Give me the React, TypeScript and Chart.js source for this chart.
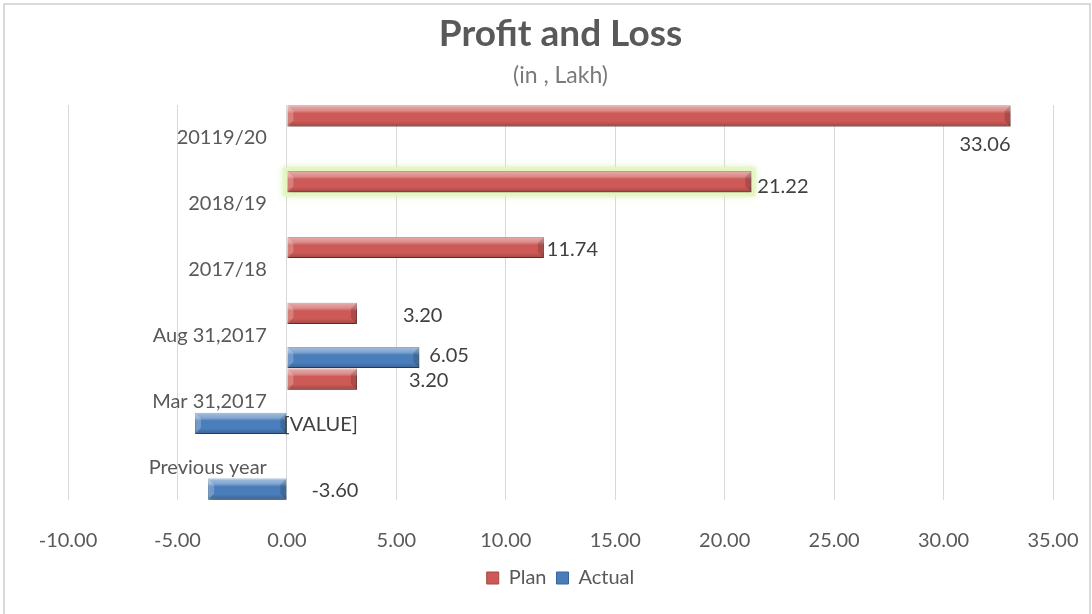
import React, { useEffect, useRef } from "react";
import { Chart, registerables } from "chart.js";

Chart.register(...registerables);

// ---- data ----
const categories = ["20119/20", "2018/19", "2017/18", "Aug 31,2017", "Mar 31,2017", "Previous year"];
const planValues: (number | null)[] = [33.06, 21.22, 11.74, 3.2, 3.2, null];
const actualValues: (number | null)[] = [null, null, null, 6.05, -4.2, -3.6];
const planLabelText: (string | null)[] = [null, null, null, null, null, null];
const actualLabelText: (string | null)[] = [null, null, null, null, "[VALUE]", null];
const xMin = -10;
const xMax = 35;
const xStep = 5;
const seriesNames = ["Plan", "Actual"];

const FONT = 'Lato, "Open Sans", "DejaVu Sans", sans-serif';
const TEXT = "#595959";
const LABEL = "#404040";

// label placement relative to bar end (style, not data)
const labelPlacement: Record<number, ({ dx: number; dy: number; align?: CanvasTextAlign } | null)[]> = {
  0: [
    { dx: 0, dy: 29, align: "right" },
    { dx: 6, dy: 5 },
    { dx: 3, dy: 2 },
    { dx: 46, dy: 2 },
    { dx: 52, dy: 1 },
    null,
  ],
  1: [null, null, null, { dx: 10, dy: -2 }, { dx: -3, dy: 1 }, { dx: 25, dy: 1 }],
};

const textOverrides = [planLabelText, actualLabelText];

const decorPlugin = {
  id: "decor",
  beforeDatasetsDraw(chart: any) {
    // selection glow on 2018/19 plan bar
    const meta = chart.getDatasetMeta(0);
    const el = meta.data[1];
    if (!el) return;
    const p = el.getProps(["x", "y", "base", "height"], true);
    const ctx = chart.ctx;
    const l = Math.min(p.x, p.base), r = Math.max(p.x, p.base);
    ctx.save();
    ctx.fillStyle = "rgba(230,245,195,0.9)";
    ctx.shadowColor = "rgba(205,238,150,0.9)";
    ctx.shadowBlur = 6;
    ctx.fillRect(l - 4, p.y - p.height / 2 - 4, r - l + 8, p.height + 8);
    ctx.restore();
  },
  beforeDatasetDraw(chart: any) {
    const ctx = chart.ctx;
    ctx.save();
    ctx.shadowColor = "rgba(0,0,0,0.35)";
    ctx.shadowBlur = 5;
    ctx.shadowOffsetX = 2;
    ctx.shadowOffsetY = 3;
  },
  afterDatasetDraw(chart: any) {
    chart.ctx.restore();
  },
  afterDatasetsDraw(chart: any) {
    const ctx = chart.ctx;
    const xs = chart.scales.x;
    const ys = chart.scales.y;
    // bevel overlay
    chart.data.datasets.forEach((ds: any, di: number) => {
      const meta = chart.getDatasetMeta(di);
      meta.data.forEach((el: any, i: number) => {
        if (ds.data[i] === null || ds.data[i] === undefined) return;
        const p = el.getProps(["x", "y", "base", "height"], true);
        const l = Math.min(p.x, p.base), r = Math.max(p.x, p.base);
        const t = p.y - p.height / 2, b = p.y + p.height / 2;
        const g = ctx.createLinearGradient(0, t, 0, b);
        g.addColorStop(0, "rgba(255,255,255,0.5)");
        g.addColorStop(0.25, "rgba(255,255,255,0.3)");
        g.addColorStop(0.38, "rgba(255,255,255,0)");
        g.addColorStop(0.75, "rgba(0,0,0,0)");
        g.addColorStop(1, "rgba(0,0,0,0.22)");
        ctx.save();
        ctx.fillStyle = g;
        ctx.fillRect(l, t, r - l, b - t);
        // end bevels
        const bw = Math.min(6, (r - l) / 3);
        ctx.fillStyle = "rgba(255,255,255,0.22)";
        ctx.beginPath();
        ctx.moveTo(l, t);
        ctx.lineTo(l + bw, t + bw);
        ctx.lineTo(l + bw, b - bw);
        ctx.lineTo(l, b);
        ctx.closePath();
        ctx.fill();
        ctx.fillStyle = "rgba(0,0,0,0.16)";
        ctx.beginPath();
        ctx.moveTo(r, t);
        ctx.lineTo(r - bw, t + bw);
        ctx.lineTo(r - bw, b - bw);
        ctx.lineTo(r, b);
        ctx.closePath();
        ctx.fill();
        ctx.restore();
      });
    });
    // data labels
    ctx.save();
    ctx.font = `20px ${FONT}`;
    ctx.fillStyle = LABEL;
    ctx.textBaseline = "middle";
    chart.data.datasets.forEach((ds: any, di: number) => {
      const meta = chart.getDatasetMeta(di);
      meta.data.forEach((el: any, i: number) => {
        const v = ds.data[i];
        if (v === null || v === undefined) return;
        const pl = (labelPlacement[di] && labelPlacement[di][i]) || { dx: 6, dy: 0 };
        const p = el.getProps(["x", "y", "base", "height"], true);
        const end = Math.max(p.x, p.base);
        const txt = textOverrides[di][i] ?? Number(v).toFixed(2);
        ctx.textAlign = pl.align || "left";
        ctx.fillText(txt, end + pl.dx, p.y + pl.dy);
      });
    });
    ctx.restore();
    // category labels next to the zero axis
    ctx.save();
    ctx.font = `20px ${FONT}`;
    ctx.fillStyle = TEXT;
    ctx.textAlign = "right";
    ctx.textBaseline = "middle";
    const x0 = xs.getPixelForValue(0);
    categories.forEach((c, i) => {
      ctx.fillText(c, x0 - 20, ys.getPixelForValue(i));
    });
    ctx.restore();
  },
};

export default function App() {
  const ref = useRef<HTMLCanvasElement | null>(null);
  useEffect(() => {
    document.body.style.margin = "0";
    const canvas = ref.current;
    if (!canvas) return;
    const chart = new Chart(canvas, {
      type: "bar",
      data: {
        labels: categories,
        datasets: [
          {
            label: seriesNames[0],
            data: planValues,
            backgroundColor: "#cd5a57",
            borderColor: "#a84542",
            borderWidth: 1,
            categoryPercentage: 1.34,
            barPercentage: 0.48,
          },
          {
            label: seriesNames[1],
            data: actualValues,
            backgroundColor: "#4a7ebb",
            borderColor: "#35649c",
            borderWidth: 1,
            categoryPercentage: 1.34,
            barPercentage: 0.48,
          },
        ] as any,
      },
      options: {
        indexAxis: "y",
        responsive: false,
        animation: false,
        layout: { padding: { left: 68, right: 39, top: 0, bottom: 16 } },
        scales: {
          x: {
            type: "linear",
            min: xMin,
            max: xMax,
            ticks: {
              stepSize: xStep,
              callback: (v: any) => Number(v).toFixed(2),
              font: { family: FONT, size: 20 },
              color: TEXT,
              padding: 4,
            },
            grid: { color: "#d9d9d9", lineWidth: 1, drawTicks: true, tickLength: 25, tickColor: "rgba(0,0,0,0)" },
            border: { display: false },
            afterFit: (s: any) => {
              s.height = 58;
            },
          },
          y: { display: false },
        },
        plugins: {
          title: {
            display: true,
            text: "Profit and Loss",
            font: { family: FONT, size: 37, weight: "bold" },
            color: TEXT,
            padding: { top: 12, bottom: 0 },
          },
          subtitle: {
            display: true,
            text: "(in , Lakh)",
            font: { family: FONT, size: 23 },
            color: "#7a7a7a",
            padding: { top: 5, bottom: 16 },
          },
          legend: {
            position: "bottom",
            labels: {
              boxWidth: 12,
              boxHeight: 12,
              padding: 10,
              font: { family: FONT, size: 20 },
              color: TEXT,
            },
          },
          tooltip: { enabled: false },
        },
      } as any,
      plugins: [decorPlugin],
    });
    return () => chart.destroy();
  }, []);
  return (
    <div style={{ position: "relative", width: 1092, height: 614, overflow: "hidden", background: "#fff" }}>
      <canvas ref={ref} width={1092} height={614} style={{ display: "block" }} />
      <div
        style={{
          position: "absolute",
          left: 3,
          top: 3,
          width: 1088,
          height: 640,
          boxSizing: "border-box",
          border: "2px solid #d9d9d9",
          pointerEvents: "none",
        }}
      />
    </div>
  );
}
